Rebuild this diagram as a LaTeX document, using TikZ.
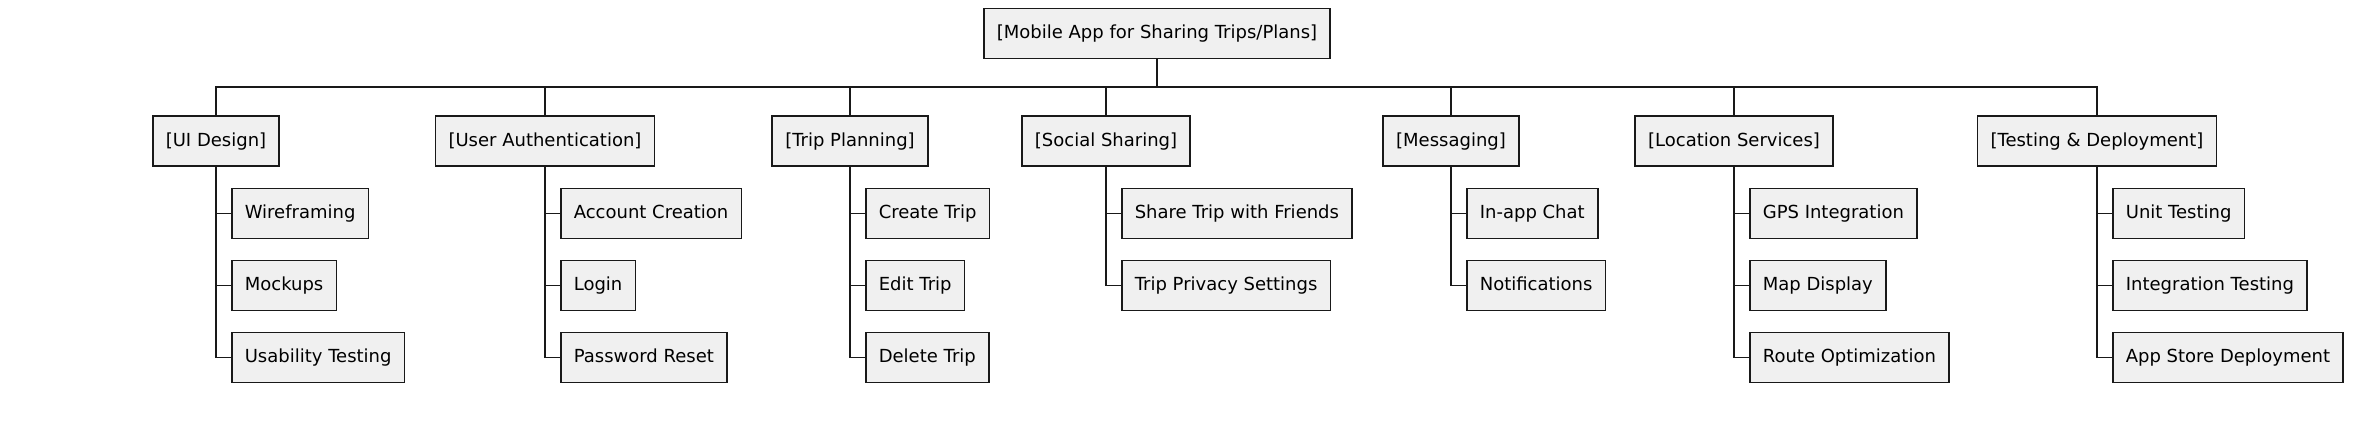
\documentclass[tikz,border=0pt]{standalone}
\usepackage{fontspec}
\setmainfont{DejaVu Sans}
\begin{document}
\begin{tikzpicture}[x=1pt,y=-1pt,
  box/.style={draw=black!90,fill=black!6,line width=1.6pt,font=\fontsize{18}{21}\selectfont,
    inner xsep=13pt,inner ysep=0pt,minimum height=50pt,text height=13.5pt,text depth=3.5pt},
  link/.style={draw=black!90,line width=1.6pt}]
\useasboundingbox (0,0) rectangle (2374,434);
\node[box] (root) at (1157,33.5) {[Mobile App for Sharing Trips/Plans]};
\coordinate (bus) at (1157,87);
% level 1
\node[box] (ui) at (216,141) {[UI Design]};
\node[box] (ua) at (545,141) {[User Authentication]};
\node[box] (tp) at (850,141) {[Trip Planning]};
\node[box] (ss) at (1106,141) {[Social Sharing]};
\node[box] (ms) at (1451,141) {[Messaging]};
\node[box] (ls) at (1734,141) {[Location Services]};
\node[box] (td) at (2097,141) {[Testing \& Deployment]};
\draw[link] (root.south) -- (bus);
\draw[link] (ui.north) |- (bus) -| (td.north);
\foreach \n in {ua,tp,ss,ms,ls}{\draw[link] (\n.north) -- (\n.north |- bus);}
% children
\newcommand{\kids}[2]{%
  \foreach \t [count=\i] in {#2}{%
    \node[box,anchor=west] (#1c\i) at ([xshift=15pt]#1.center |- 0,{213.5+72*(\i-1)}) {\t};
    \draw[link] (#1c\i.west) -- (#1c\i.west -| #1.south);
  }}
\kids{ui}{Wireframing,Mockups,Usability Testing}
\kids{ua}{Account Creation,Login,Password Reset}
\kids{tp}{Create Trip,Edit Trip,Delete Trip}
\kids{ss}{Share Trip with Friends,Trip Privacy Settings}
\kids{ms}{In-app Chat,Notifications}
\kids{ls}{GPS Integration,Map Display,Route Optimization}
\kids{td}{Unit Testing,Integration Testing,App Store Deployment}
\draw[link] (ui.south) |- (uic3.west);
\draw[link] (ua.south) |- (uac3.west);
\draw[link] (tp.south) |- (tpc3.west);
\draw[link] (ss.south) |- (ssc2.west);
\draw[link] (ms.south) |- (msc2.west);
\draw[link] (ls.south) |- (lsc3.west);
\draw[link] (td.south) |- (tdc3.west);
\end{tikzpicture}
\end{document}
